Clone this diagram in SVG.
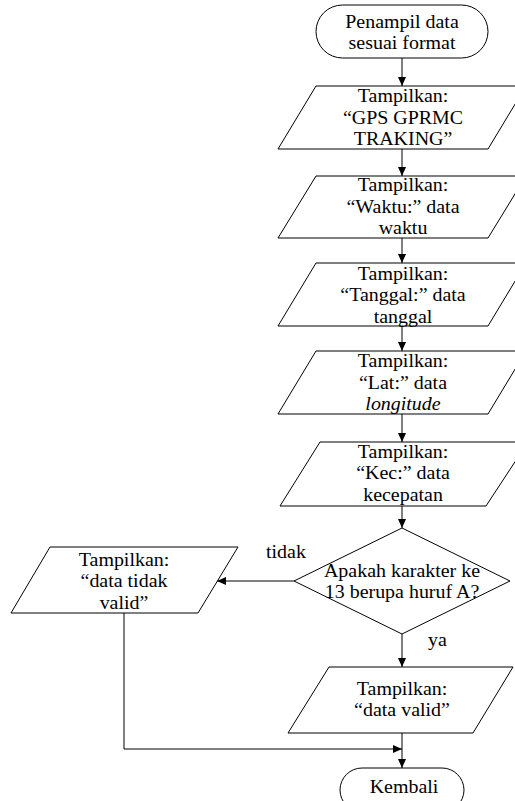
<svg xmlns="http://www.w3.org/2000/svg" width="515" height="801" viewBox="0 0 515 801">
<style>
.s{fill:#fff;stroke:#000;stroke-width:1}
.c{fill:none;stroke:#000;stroke-width:1}
text{font-family:"Liberation Serif","Times New Roman",serif;font-size:19px;fill:#000}
.t text{text-anchor:middle}
</style>
<defs>
<marker id="ah" markerUnits="userSpaceOnUse" markerWidth="9" markerHeight="8" refX="9" refY="4" orient="auto">
<path d="M0,0 L9,4 L0,8 z" fill="#000"/>
</marker>
</defs>
<rect width="515" height="801" fill="#fff"/>
<g id="connectors">
<line class="c" x1="402" y1="58" x2="402" y2="86" marker-end="url(#ah)"/>
<line class="c" x1="402" y1="149" x2="402" y2="176" marker-end="url(#ah)"/>
<line class="c" x1="402" y1="238" x2="402" y2="263" marker-end="url(#ah)"/>
<line class="c" x1="402" y1="326" x2="402" y2="351" marker-end="url(#ah)"/>
<line class="c" x1="402" y1="414" x2="402" y2="442" marker-end="url(#ah)"/>
<line class="c" x1="402" y1="506" x2="402" y2="528" marker-end="url(#ah)"/>
<line class="c" x1="294" y1="581" x2="217" y2="581" marker-end="url(#ah)"/>
<line class="c" x1="402" y1="634" x2="402" y2="667" marker-end="url(#ah)"/>
<line class="c" x1="402" y1="733" x2="402" y2="768" marker-end="url(#ah)"/>
<polyline class="c" points="124,613 124,749 402,749" marker-end="url(#ah)"/>
<g transform="translate(266,0) scale(1.05,1)"><text x="0" y="558">tidak</text></g>
<g transform="translate(428,0) scale(1.05,1)"><text x="0" y="646">ya</text></g>
</g>
<g id="start">
<rect class="s" x="316" y="5" width="172" height="53" rx="26.5" ry="26.5"/>
<g class="t" transform="translate(402,0) scale(1.05,1)">
<text x="0" y="28">Penampil data</text>
<text x="0" y="49.5">sesuai format</text>
</g>
</g>
<g id="box1">
<polygon class="s" points="316,86 526,86 488,149 278,149"/>
<g class="t" transform="translate(403,0) scale(1.05,1)">
<text x="0" y="102.5">Tampilkan:</text>
<text x="0" y="124">“GPS GPRMC</text>
<text x="0" y="145.5">TRAKING”</text>
</g>
</g>
<g id="box2">
<polygon class="s" points="316,176 526,176 488,238 278,238"/>
<g class="t" transform="translate(403,0) scale(1.05,1)">
<text x="0" y="191.5">Tampilkan:</text>
<text x="0" y="213">“Waktu:” data</text>
<text x="0" y="234.5">waktu</text>
</g>
</g>
<g id="box3">
<polygon class="s" points="316,263 526,263 488,326 278,326"/>
<g class="t" transform="translate(403,0) scale(1.05,1)">
<text x="0" y="280">Tampilkan:</text>
<text x="0" y="301.5">“Tanggal:” data</text>
<text x="0" y="323">tanggal</text>
</g>
</g>
<g id="box4">
<polygon class="s" points="316,351 526,351 488,414 278,414"/>
<g class="t" transform="translate(403,0) scale(1.05,1)">
<text x="0" y="367.5">Tampilkan:</text>
<text x="0" y="389">“Lat:” data</text>
<text x="0" y="410.5" font-style="italic">longitude</text>
</g>
</g>
<g id="box5">
<polygon class="s" points="320,442 528,442 486,506 280,506"/>
<g class="t" transform="translate(403,0) scale(1.05,1)">
<text x="0" y="458">Tampilkan:</text>
<text x="0" y="479.5">“Kec:” data</text>
<text x="0" y="501">kecepatan</text>
</g>
</g>
<g id="decision">
<polygon class="s" points="402,528 510,581 402,634 294,581"/>
<g class="t" transform="translate(402,0) scale(1.05,1)">
<text x="0" y="577">Apakah karakter ke</text>
<text x="0" y="598.5">13 berupa huruf A?</text>
</g>
</g>
<g id="invalid">
<polygon class="s" points="50,547 238,547 198,613 11,613"/>
<g class="t" transform="translate(124,0) scale(1.05,1)">
<text x="0" y="566">Tampilkan:</text>
<text x="0" y="587.5">“data tidak</text>
<text x="0" y="609">valid”</text>
</g>
</g>
<g id="valid">
<polygon class="s" points="329,667 513,667 473,733 288,733"/>
<g class="t" transform="translate(402,0) scale(1.05,1)">
<text x="0" y="695">Tampilkan:</text>
<text x="0" y="716.5">“data valid”</text>
</g>
</g>
<g id="end">
<rect class="s" x="340" y="768" width="124" height="44" rx="22" ry="22"/>
<g class="t" transform="translate(404,0) scale(1.05,1)">
<text x="0" y="793">Kembali</text>
</g>
</g>
</svg>
